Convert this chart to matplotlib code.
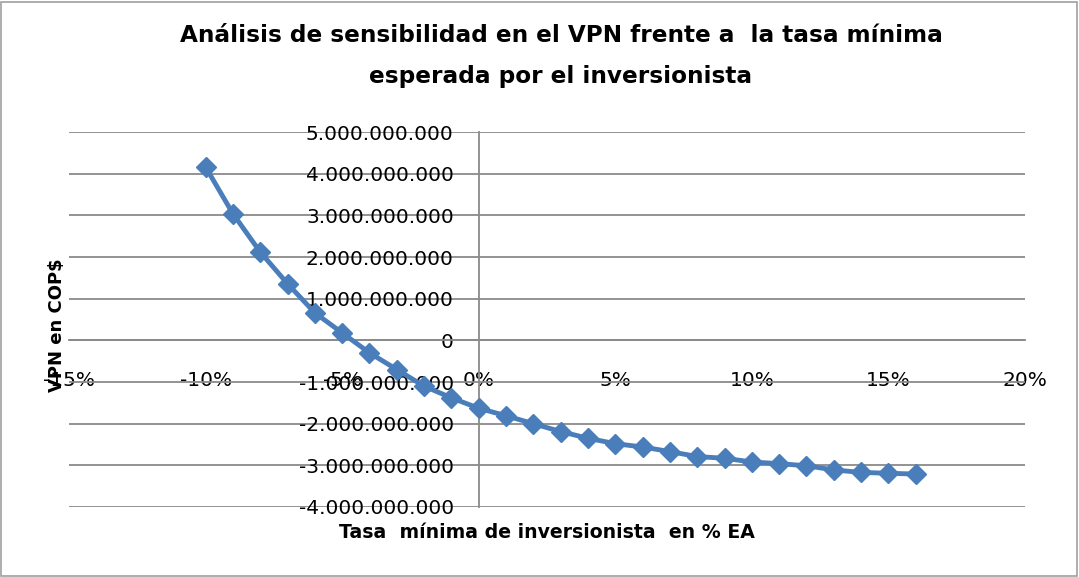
import matplotlib
matplotlib.use("Agg")
import matplotlib.pyplot as plt
from matplotlib.ticker import FuncFormatter, MultipleLocator
from matplotlib.patches import Rectangle

# Data
tasa = [-10, -9, -8, -7, -6, -5, -4, -3, -2, -1, 0, 1, 2, 3, 4, 5, 6, 7, 8,
        9, 10, 11, 12, 13, 14, 15, 16]  # % EA
vpn = [4.16e9, 3.04e9, 2.12e9, 1.36e9, 0.66e9, 0.18e9, -0.30e9, -0.70e9,
       -1.10e9, -1.38e9, -1.63e9, -1.81e9, -2.00e9, -2.19e9, -2.35e9,
       -2.48e9, -2.56e9, -2.67e9, -2.79e9, -2.83e9, -2.92e9, -2.96e9,
       -3.01e9, -3.11e9, -3.17e9, -3.19e9, -3.21e9]

title = "Análisis de sensibilidad en el VPN frente a  la tasa mínima\nesperada por el inversionista"
xlabel = "Tasa  mínima de inversionista  en % EA"
ylabel = "VPN en COP$"

W, H = 1079, 577
fig = plt.figure(figsize=(W / 100, H / 100), dpi=100)
fig.patch.set_facecolor("white")
fig.add_artist(Rectangle((1 / W, 1 / H), 1 - 3 / W, 1 - 3 / H, transform=fig.transFigure,
                         fill=False, edgecolor="#a0a0a0", lw=1.2))

left, right, top, bottom = 69, 1025, 132, 507
ax = fig.add_axes([left / W, 1 - bottom / H, (right - left) / W, (bottom - top) / H])

grid_c = "#8a8a8a"
ax.plot(tasa, vpn, color="#4A7EBB", lw=3.5, marker="D", markersize=10,
        markerfacecolor="#4A7EBB", markeredgecolor="#4A7EBB", zorder=3, clip_on=False)

ax.set_xlim(-15, 20)
ax.set_ylim(-4e9, 5e9)
ax.xaxis.set_major_locator(MultipleLocator(5))
ax.yaxis.set_major_locator(MultipleLocator(1e9))

def yfmt(v, pos):
    if abs(v) < 1:
        return "0"
    s = f"{abs(int(round(v))):,}".replace(",", ".")
    return ("-" if v < 0 else "") + s

ax.yaxis.set_major_formatter(FuncFormatter(yfmt))
ax.xaxis.set_major_formatter(FuncFormatter(lambda v, p: f"{int(round(v))}%"))

ax.yaxis.grid(True, color=grid_c, lw=1.3)
ax.set_axisbelow(True)
for s in ["top", "right"]:
    ax.spines[s].set_visible(False)
ax.spines["left"].set_position(("data", 0))
ax.spines["bottom"].set_position(("data", 0))
ax.spines["left"].set_color(grid_c)
ax.spines["bottom"].set_color(grid_c)
ax.spines["left"].set_linewidth(1.3)
ax.spines["bottom"].set_linewidth(1.3)
ax.tick_params(axis="both", length=0, labelsize=14.5, colors="black")
ax.tick_params(axis="y", pad=18)
ax.tick_params(axis="x", pad=22)

fig.text(561 / W, 1 - 56 / H, title, ha="center", va="center", fontsize=16.7,
         fontweight="bold", linespacing=2.0, family="DejaVu Sans")
fig.text(547 / W, 1 - 532 / H, xlabel, ha="center", va="center", fontsize=13.6,
         fontweight="bold")
fig.text(57 / W, 1 - 325 / H, ylabel, ha="center", va="center", fontsize=13,
         fontweight="bold", rotation=90)

fig.savefig("out.png", dpi=100)
